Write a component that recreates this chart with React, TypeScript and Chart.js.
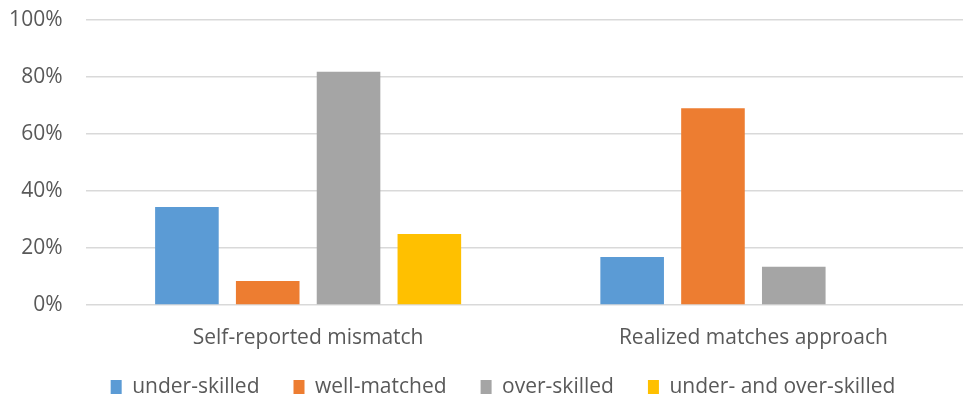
import React, { useEffect, useRef } from "react";
import { Chart, registerables } from "chart.js";

Chart.register(...registerables);

const categories = ["Self-reported mismatch", "Realized matches approach"];
const seriesNames = ["under-skilled", "well-matched", "over-skilled", "under- and over-skilled"];
const underSkilled = [34.4, 16.8];
const wellMatched = [8.4, 69];
const overSkilled = [81.8, 13.4];
const underAndOver = [24.9, 0];
const colors = ["#5B9BD5", "#ED7D31", "#A5A5A5", "#FFC000"];
const yTicks = [0, 20, 40, 60, 80, 100];

const LEGEND_PAD = 34;

const legendShift = {
  id: "legendShift",
  afterLayout(chart: any) {
    const lg = chart.legend;
    if (!lg) return;
    lg.left = 30;
    lg.right = chart.width;
    lg.top = 387 - LEGEND_PAD - 10.5;
  },
};

export default function App() {
  const ref = useRef<HTMLCanvasElement>(null);
  useEffect(() => {
    if (!ref.current) return;
    const values = [underSkilled, wellMatched, overSkilled, underAndOver];
    const font = { family: "'Open Sans', sans-serif", size: 21 };
    const chart = new Chart(ref.current, {
      type: "bar",
      data: {
        labels: categories,
        datasets: seriesNames.map((n, i) => ({
          label: n,
          data: values[i],
          backgroundColor: colors[i],
          borderWidth: 0,
          categoryPercentage: 0.726,
          barPercentage: 0.787,
        })),
      },
      plugins: [legendShift],
      options: {
        animation: false,
        responsive: false,
        maintainAspectRatio: false,
        layout: { padding: { left: 0, right: 0, top: 20, bottom: 0 } },
        plugins: {
          tooltip: { enabled: false },
          legend: {
            position: "bottom",
            maxHeight: 50,
            labels: {
              boxWidth: 11,
              boxHeight: 14,
              padding: LEGEND_PAD,
              color: "#595959",
              font,
            },
          },
        },
        scales: {
          x: {
            grid: { display: false, drawTicks: false },
            border: { display: false },
            ticks: { color: "#595959", font, padding: 20 },
            afterFit: (axis: any) => {
              axis.height = 46;
            },
          },
          y: {
            min: 0,
            max: 100,
            afterBuildTicks: (axis: any) => {
              axis.ticks = yTicks.map((v) => ({ value: v }));
            },
            grid: { color: "#D9D9D9", lineWidth: 1.5, drawTicks: false },
            border: { display: false },
            ticks: {
              color: "#595959",
              font,
              padding: 23,
              callback: (v: any) => v + "%",
            },
            afterFit: (axis: any) => {
              axis.width = 85.5;
              axis.paddingTop = 0;
              axis.paddingBottom = 0;
            },
          },
        },
      },
    });
    return () => chart.destroy();
  }, []);
  return (
    <div style={{ position: "fixed", left: 0, top: 0, width: 976, height: 401, background: "#fff" }}>
      <canvas ref={ref} width={976} height={401} style={{ width: 976, height: 401 }} />
    </div>
  );
}
